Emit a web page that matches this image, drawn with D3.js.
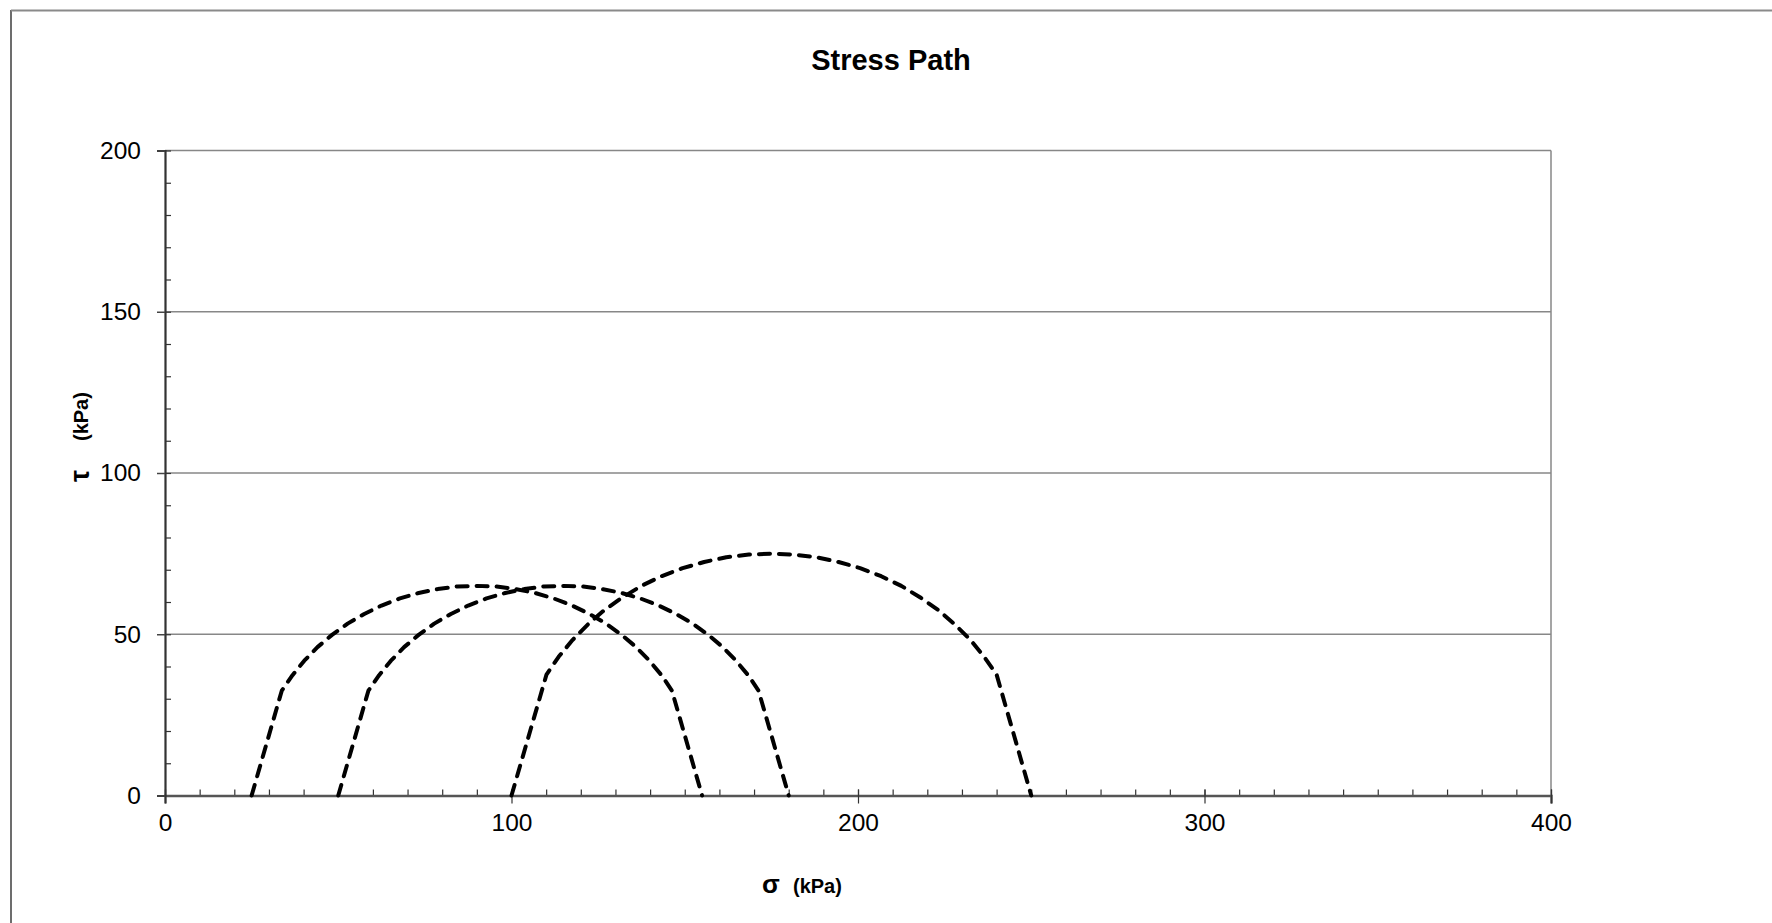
<!DOCTYPE html>
<html>
<head>
<meta charset="utf-8">
<script src="https://cdn.jsdelivr.net/npm/d3@7"></script>
<style>
  html, body { margin: 0; padding: 0; background: #fff; }
  svg { display: block; font-family: "Liberation Sans", Arial, sans-serif; }
</style>
</head>
<body>
<svg id="chart" width="1772" height="923"></svg>
<script>
// ---- data ----
const xTickLabels = [0, 100, 200, 300, 400];
const yTickLabels = [0, 50, 100, 150, 200];

const path1Sigma = [25, 33.7, 36.8, 40.2, 44.0, 48.2, 52.7, 57.5, 62.5, 67.8, 73.2, 78.7, 84.3, 90,
                    95.7, 101.3, 106.8, 112.2, 117.5, 122.5, 127.3, 131.8, 136.0, 139.8, 143.3, 146.3, 155];
const path1Tau   = [0, 32.5, 37.3, 41.8, 46.0, 49.8, 53.3, 56.3, 58.9, 61.1, 62.8, 64.0, 64.8, 65,
                    64.8, 64.0, 62.8, 61.1, 58.9, 56.3, 53.3, 49.8, 46.0, 41.8, 37.3, 32.5, 0];

const path2Sigma = [50, 58.7, 61.8, 65.2, 69.0, 73.2, 77.7, 82.5, 87.5, 92.8, 98.2, 103.7, 109.3, 115,
                    120.7, 126.3, 131.8, 137.2, 142.5, 147.5, 152.3, 156.8, 161.0, 164.8, 168.3, 171.3, 180];
const path2Tau   = [0, 32.5, 37.3, 41.8, 46.0, 49.8, 53.3, 56.3, 58.9, 61.1, 62.8, 64.0, 64.8, 65,
                    64.8, 64.0, 62.8, 61.1, 58.9, 56.3, 53.3, 49.8, 46.0, 41.8, 37.3, 32.5, 0];

const path3Sigma = [100, 110.1, 113.6, 117.6, 122.0, 126.8, 132.0, 137.5, 143.3, 149.4, 155.6, 162.0, 168.5, 175,
                    181.5, 188.0, 194.4, 200.6, 206.7, 212.5, 218.0, 223.2, 228.0, 232.5, 236.4, 240.0, 250];
const path3Tau   = [0, 37.5, 43.0, 48.2, 53.0, 57.5, 61.4, 65.0, 68.0, 70.5, 72.4, 73.9, 74.7, 75,
                    74.7, 73.9, 72.4, 70.5, 68.0, 65.0, 61.4, 57.5, 53.0, 48.2, 43.0, 37.5, 0];

const paths = [[path1Sigma, path1Tau], [path2Sigma, path2Tau], [path3Sigma, path3Tau]];

// ---- layout ----
const svg = d3.select("#chart");
const x = d3.scaleLinear().domain([0, 400]).range([165, 1551]);
const y = d3.scaleLinear().domain([0, 200]).range([795.5, 150.5]);

// outer frame (top + left visible)
svg.append("line").attr("x1", 11).attr("x2", 11).attr("y1", 10).attr("y2", 923)
  .attr("stroke", "#3c3c3c").attr("stroke-width", 1.5);
svg.append("line").attr("x1", 11).attr("x2", 1772).attr("y1", 10.5).attr("y2", 10.5)
  .attr("stroke", "#8a8a8a").attr("stroke-width", 2);

// title
svg.append("text").attr("x", 891).attr("y", 70).attr("text-anchor", "middle")
  .attr("font-weight", "bold").attr("font-size", 29).attr("fill", "#000").text("Stress Path");

// gridlines
svg.append("g").selectAll("line").data(yTickLabels.filter(d => d > 0)).join("line")
  .attr("x1", x(0)).attr("x2", x(400))
  .attr("y1", d => y(d)).attr("y2", d => y(d))
  .attr("stroke", "#878787").attr("stroke-width", 1.5);

// right plot border
svg.append("line").attr("x1", x(400)).attr("x2", x(400)).attr("y1", y(200)).attr("y2", y(0))
  .attr("stroke", "#878787").attr("stroke-width", 1.5);

// minor ticks via axes
const xMinor = d3.axisBottom(x).tickValues(d3.range(0, 401, 10)).tickSize(-6).tickFormat("");
const gxm = svg.append("g").attr("transform", `translate(0,${y(0)})`).call(xMinor);
gxm.select(".domain").remove();
gxm.selectAll("line").attr("stroke", "#333").attr("stroke-width", 1.2);

const yMinor = d3.axisLeft(y).tickValues(d3.range(0, 201, 10)).tickSize(-6).tickFormat("");
const gym = svg.append("g").attr("transform", `translate(${x(0)},0)`).call(yMinor);
gym.select(".domain").remove();
gym.selectAll("line").attr("stroke", "#333").attr("stroke-width", 1.2);

// major x axis
const xAxis = d3.axisBottom(x).tickValues(xTickLabels).tickSize(8).tickPadding(10).tickFormat(d3.format("d"));
const gx = svg.append("g").attr("transform", `translate(0,${y(0)})`).call(xAxis);
gx.select(".domain").attr("stroke", "#555").attr("stroke-width", 2.5);
gx.selectAll(".tick line").attr("stroke", "#333").attr("stroke-width", 1.2).attr("y1", -6);
gx.selectAll(".tick text").attr("font-size", 24.5).attr("fill", "#000")
  .attr("font-family", "Liberation Sans, Arial, sans-serif").attr("dy", "0.71em");

// major y axis
const yAxis = d3.axisLeft(y).tickValues(yTickLabels).tickSize(8).tickPadding(16).tickFormat(d3.format("d"));
const gy = svg.append("g").attr("transform", `translate(${x(0)},0)`).call(yAxis);
gy.select(".domain").attr("stroke", "#333").attr("stroke-width", 2.2);
gy.selectAll(".tick line").attr("stroke", "#444").attr("stroke-width", 1.5);
gy.selectAll(".tick text").attr("font-size", 24.5).attr("fill", "#000")
  .attr("font-family", "Liberation Sans, Arial, sans-serif");

// stress paths
const line = d3.line().x(d => x(d[0])).y(d => y(d[1]));
svg.append("g").selectAll("path").data(paths.map(p => p[0].map((s, i) => [s, p[1][i]]))).join("path")
  .attr("d", line)
  .attr("fill", "none").attr("stroke", "#000").attr("stroke-width", 4)
  .attr("stroke-dasharray", "11,9").attr("stroke-linecap", "round").attr("stroke-linejoin", "round");

// axis titles
const xt = svg.append("text").attr("x", 762).attr("y", 893).attr("font-weight", "bold").attr("fill", "#000");
xt.append("tspan").attr("font-size", 26).text("σ");
xt.append("tspan").attr("font-size", 20).attr("x", 793).text("(kPa)");

svg.append("text").attr("transform", "translate(89,482) rotate(-90)")
  .attr("font-weight", "bold").attr("font-size", 27).attr("fill", "#000").text("τ");
svg.append("text").attr("transform", "translate(88,441) rotate(-90)")
  .attr("font-weight", "bold").attr("font-size", 20).attr("fill", "#000").text("(kPa)");
</script>
</body>
</html>
